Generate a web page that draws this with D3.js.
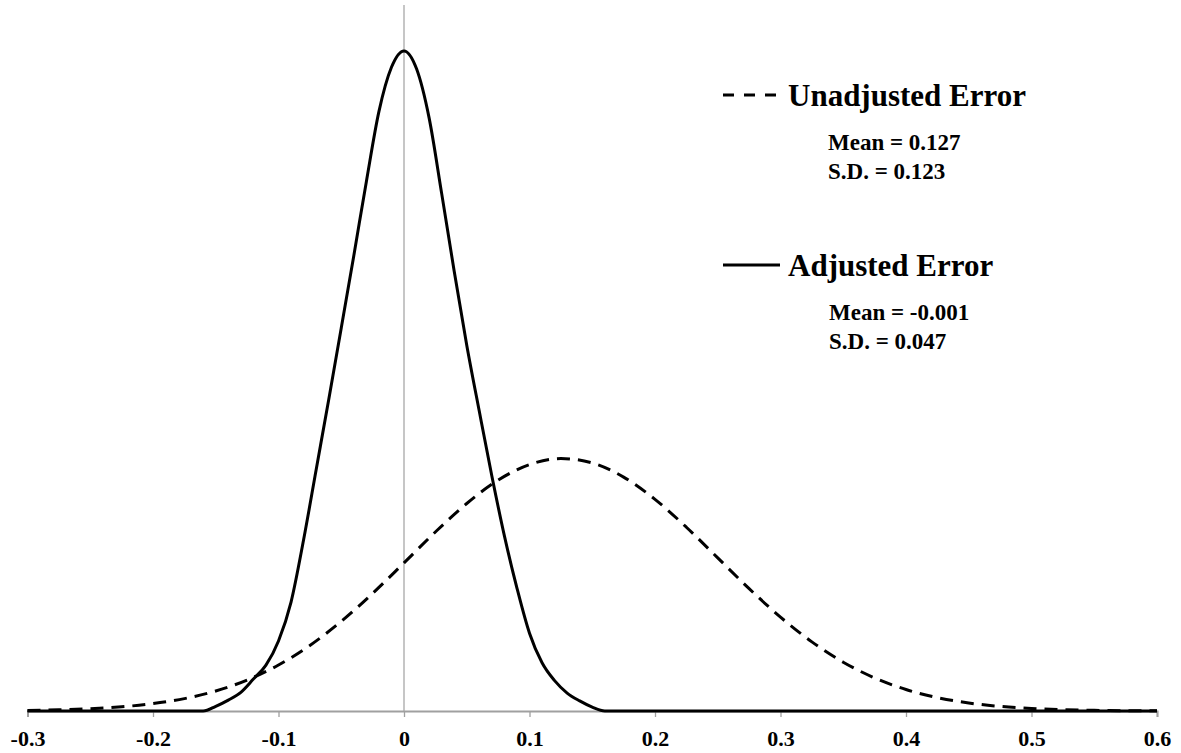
<!DOCTYPE html>
<html>
<head>
<meta charset="utf-8">
<script src="https://cdn.jsdelivr.net/npm/d3@7"></script>
<style>
  body { margin: 0; background: #fff; }
  text { font-family: "Liberation Serif", "Times New Roman", serif; font-weight: bold; fill: #000; }
</style>
</head>
<body>
<script>
// x ticks on the error axis
const tickValues = [-0.3, -0.2, -0.1, 0, 0.1, 0.2, 0.3, 0.4, 0.5, 0.6];

// adjusted error density
const adjX = [-0.3, -0.2, -0.17, -0.16, -0.15, -0.14, -0.13, -0.12, -0.11, -0.1, -0.09, -0.08, -0.07,
              -0.06, -0.05, -0.04, -0.03, -0.02, -0.01, 0, 0.01, 0.02, 0.03, 0.04, 0.05, 0.06,
              0.07, 0.08, 0.09, 0.1, 0.11, 0.12, 0.13, 0.14, 0.15, 0.16, 0.17, 0.2, 0.3, 0.4, 0.5, 0.6];
const adjY = [0, 0, 0, 0, 0.06, 0.14, 0.24, 0.41, 0.59, 0.90, 1.40, 2.20, 3.10,
              4.00, 4.92, 5.85, 6.80, 7.70, 8.27, 8.48, 8.25, 7.62, 6.65, 5.65, 4.70, 3.85,
              3.02, 2.25, 1.58, 1.00, 0.62, 0.39, 0.23, 0.13, 0.05, 0, 0, 0, 0, 0, 0, 0];

// unadjusted error density
const unadjX = [-0.3, -0.275, -0.25, -0.225, -0.2, -0.175, -0.15, -0.125, -0.1, -0.075, -0.05, -0.025,
                0, 0.025, 0.05, 0.075, 0.1, 0.125, 0.15, 0.175, 0.2, 0.225, 0.25, 0.275, 0.3,
                0.325, 0.35, 0.375, 0.4, 0.425, 0.45, 0.475, 0.5, 0.525, 0.55, 0.575, 0.6];
const unadjY = [0.008, 0.016, 0.03, 0.054, 0.095, 0.159, 0.257, 0.398, 0.591, 0.842, 1.152, 1.511,
                1.903, 2.30, 2.666, 2.966, 3.166, 3.243, 3.187, 3.005, 2.719, 2.361, 1.967, 1.572, 1.206,
                0.888, 0.627, 0.425, 0.276, 0.172, 0.103, 0.059, 0.033, 0.017, 0.009, 0.004, 0.002];

const legendNames = ["Unadjusted Error", "Adjusted Error"];
const legendStats = [["Mean = 0.127", "S.D. = 0.123"], ["Mean = -0.001", "S.D. = 0.047"]];

const width = 1181;
const height = 753;

const svg = d3.select("body").append("svg").attr("width", width).attr("height", height);

const x = d3.scaleLinear().domain([-0.3, 0.6]).range([27.5, 1157]);
const y = d3.scaleLinear().domain([0, 9.07]).range([711, 5]);

// vertical axis at zero
svg.append("line")
    .attr("x1", x(0)).attr("x2", x(0))
    .attr("y1", y(9.07)).attr("y2", y(0))
    .style("stroke", "#a0a0a0")
    .style("stroke-width", 1.2);

// x axis
const xAxis = svg.append("g")
    .attr("transform", `translate(0,${y(0)})`)
    .call(d3.axisBottom(x).tickValues(tickValues).tickSize(6));
xAxis.select(".domain").style("stroke", "#a0a0a0").style("stroke-width", 2);
xAxis.selectAll(".tick line").style("stroke", "#a0a0a0").style("stroke-width", 1.3);
xAxis.selectAll(".tick text")
    .attr("y", 35)
    .attr("dy", null)
    .style("font-family", "Liberation Serif")
    .style("font-size", "22px")
    .style("font-weight", "bold")
    .style("fill", "#000")
    .text(d => d === 0 ? "0" : d3.format(".1f")(d).replace("\u2212", "-"));

const line = d3.line()
    .x(d => x(d[0]))
    .y(d => y(d[1]))
    .curve(d3.curveMonotoneX);

svg.append("path")
    .datum(unadjX.map((v, i) => [v, unadjY[i]]))
    .attr("d", line)
    .style("fill", "none")
    .style("stroke", "#000")
    .style("stroke-width", 3)
    .style("stroke-dasharray", "13,8");

svg.append("path")
    .datum(adjX.map((v, i) => [v, adjY[i]]))
    .attr("d", line)
    .style("fill", "none")
    .style("stroke", "#000")
    .style("stroke-width", 3);

// legend
const legendY = [95, 265];
const legend = svg.selectAll("g.legend")
    .data(legendNames).enter()
    .append("g")
    .attr("class", "legend")
    .attr("transform", (d, i) => `translate(723,${legendY[i]})`);

legend.append("line")
    .attr("x1", 0).attr("x2", 57)
    .attr("y1", 0).attr("y2", 0)
    .style("stroke", "#000")
    .style("stroke-width", 3)
    .style("stroke-dasharray", (d, i) => i === 0 ? "11,10" : null);

legend.append("text")
    .attr("x", 65).attr("y", 11)
    .style("font-size", "31px")
    .text(d => d);

legend.each(function(d, i) {
    d3.select(this).selectAll("text.stat")
        .data(legendStats[i]).enter()
        .append("text")
        .attr("class", "stat")
        .attr("x", 105 + i)
        .attr("y", (s, j) => 55 + j * 29)
        .style("font-size", "23px")
        .text(s => s);
});
</script>
</body>
</html>
